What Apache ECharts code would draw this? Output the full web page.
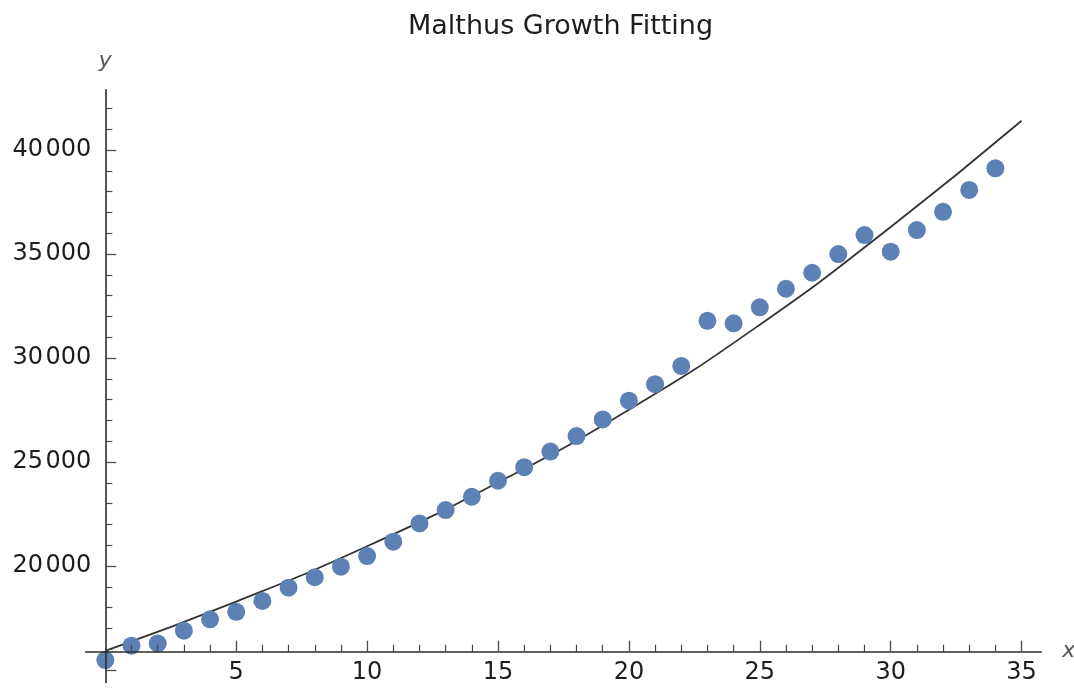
<!DOCTYPE html>
<html>
<head>
<meta charset="utf-8">
<script src="https://cdn.jsdelivr.net/npm/echarts@6/dist/echarts.min.js"></script>
<style>
  html, body { margin: 0; padding: 0; background: #ffffff; }
  #chart { width: 1074px; height: 689px; }
</style>
</head>
<body>
<div id="chart"></div>
<script>
// ---- data ----
const years = [0, 1, 2, 3, 4, 5, 6, 7, 8, 9, 10, 11, 12, 13, 14, 15, 16, 17, 18, 19, 20, 21, 22, 23, 24, 25, 26, 27, 28, 29, 30, 31, 32, 33, 34];
const population = [15480, 16170, 16280, 16890, 17440, 17800, 18320, 18960, 19460, 19970, 20480, 21170, 22050, 22690, 23330, 24100, 24750, 25500, 26250, 27050, 27950, 28740, 29620, 31790, 31670, 32440, 33330, 34100, 35000, 35910, 35110, 36150, 37030, 38080, 39120];
const fitX = [0, 5, 10, 15, 20, 25, 30, 35];
const fitY = [15920, 18290, 20950, 24020, 27510, 31600, 36300, 41410];
const xMajorTicks = [5, 10, 15, 20, 25, 30, 35];
const xMinorTicks = [1, 2, 3, 4, 6, 7, 8, 9, 11, 12, 13, 14, 16, 17, 18, 19, 21, 22, 23, 24, 26, 27, 28, 29, 31, 32, 33, 34];
const yMajorTicks = [15000, 20000, 25000, 30000, 35000, 40000];
const yLabelTicks = [20000, 25000, 30000, 35000, 40000];
const yMinorTicks = [16000, 17000, 18000, 19000, 21000, 22000, 23000, 24000, 26000, 27000, 28000, 29000, 31000, 32000, 33000, 34000, 36000, 37000, 38000, 39000, 41000, 42000];
const xRange = [-0.75, 35.75];
const yRange = [14400, 42900];
const xAxisCrossAt = 15880;   // y value where the horizontal axis is drawn
const yAxisCrossAt = 0;       // x value where the vertical axis is drawn

// ---- layout ----
const W = 1074, H = 689;
const gridLeft = 85.7, gridRight = 32.8, gridTop = 89.7, gridBottom = 6.5;
const gridH = H - gridTop - gridBottom;
const gridW = W - gridLeft - gridRight;
const xOffset = -(xAxisCrossAt - yRange[0]) / (yRange[1] - yRange[0]) * gridH;
const yOffset = -(yAxisCrossAt - xRange[0]) / (xRange[1] - xRange[0]) * gridW;

const FONT = 'DejaVu Sans';
const textColor = '#1e1e1e';
const axisColor = '#2b2b2b';
const tickColor = '#4a4a4a';

function fmt(v) {
  return String(v).replace(/(\d)(?=(\d{3})+$)/g, '$1\u200A');
}

const chart = echarts.init(document.getElementById('chart'), null, { renderer: 'canvas', width: W, height: H });

const option = {
  animation: false,
  backgroundColor: '#ffffff',
  title: {
    text: 'Malthus Growth Fitting',
    left: 403,
    top: 8,
    textStyle: { fontFamily: FONT, fontSize: 27, fontWeight: 'normal', color: textColor }
  },
  grid: {
    left: gridLeft, right: gridRight, top: gridTop, bottom: gridBottom,
    containLabel: false,
    outerBoundsMode: 'none'
  },
  xAxis: [
    {
      type: 'value', min: xRange[0], max: xRange[1], position: 'bottom', offset: xOffset, z: 3,
      axisLine: { show: true, onZero: false, lineStyle: { color: axisColor, width: 1.6 } },
      axisTick: { show: true, inside: true, length: 11, customValues: xMajorTicks, lineStyle: { color: tickColor, width: 1.3 } },
      axisLabel: { show: true, customValues: xMajorTicks, margin: 9, fontFamily: FONT, fontSize: 24, color: textColor },
      splitLine: { show: false },
      name: 'x', nameLocation: 'end', nameGap: 21,
      nameTextStyle: { fontFamily: FONT, fontStyle: 'italic', fontSize: 22, color: '#555', verticalAlign: 'middle' }
    },
    {
      type: 'value', min: xRange[0], max: xRange[1], position: 'bottom', offset: xOffset, z: 3,
      axisLine: { show: false, onZero: false },
      axisTick: { show: true, inside: true, length: 7, customValues: xMinorTicks, lineStyle: { color: tickColor, width: 1.2 } },
      axisLabel: { show: false },
      splitLine: { show: false }
    }
  ],
  yAxis: [
    {
      type: 'value', min: yRange[0], max: yRange[1], position: 'left', offset: yOffset, z: 3,
      axisLine: { show: true, onZero: false, lineStyle: { color: axisColor, width: 1.6 } },
      axisTick: { show: true, inside: true, length: 11, customValues: yMajorTicks, lineStyle: { color: tickColor, width: 1.3 } },
      axisLabel: { show: true, customValues: yLabelTicks, margin: 14, fontFamily: FONT, fontSize: 24, color: textColor, formatter: fmt },
      splitLine: { show: false },
      name: 'y', nameLocation: 'end', nameGap: 28,
      nameTextStyle: { fontFamily: FONT, fontStyle: 'italic', fontSize: 22, color: '#555', align: 'center', verticalAlign: 'middle' }
    },
    {
      type: 'value', min: yRange[0], max: yRange[1], position: 'left', offset: yOffset, z: 3,
      axisLine: { show: false, onZero: false },
      axisTick: { show: true, inside: true, length: 7, customValues: yMinorTicks, lineStyle: { color: tickColor, width: 1.2 } },
      axisLabel: { show: false },
      splitLine: { show: false }
    }
  ],
  series: [
    {
      name: 'fit', type: 'line', xAxisIndex: 0, yAxisIndex: 0, z: 1,
      data: fitX.map((x, i) => [x, fitY[i]]),
      smooth: true, showSymbol: false, symbol: 'none',
      lineStyle: { color: '#333333', width: 1.8 }
    },
    {
      name: 'data', type: 'scatter', xAxisIndex: 0, yAxisIndex: 0, z: 2, clip: false,
      data: years.map((x, i) => [x, population[i]]),
      symbol: 'circle', symbolSize: 18,
      itemStyle: { color: '#5e81b5', opacity: 1 }
    }
  ]
};
chart.setOption(option);
</script>
</body>
</html>
